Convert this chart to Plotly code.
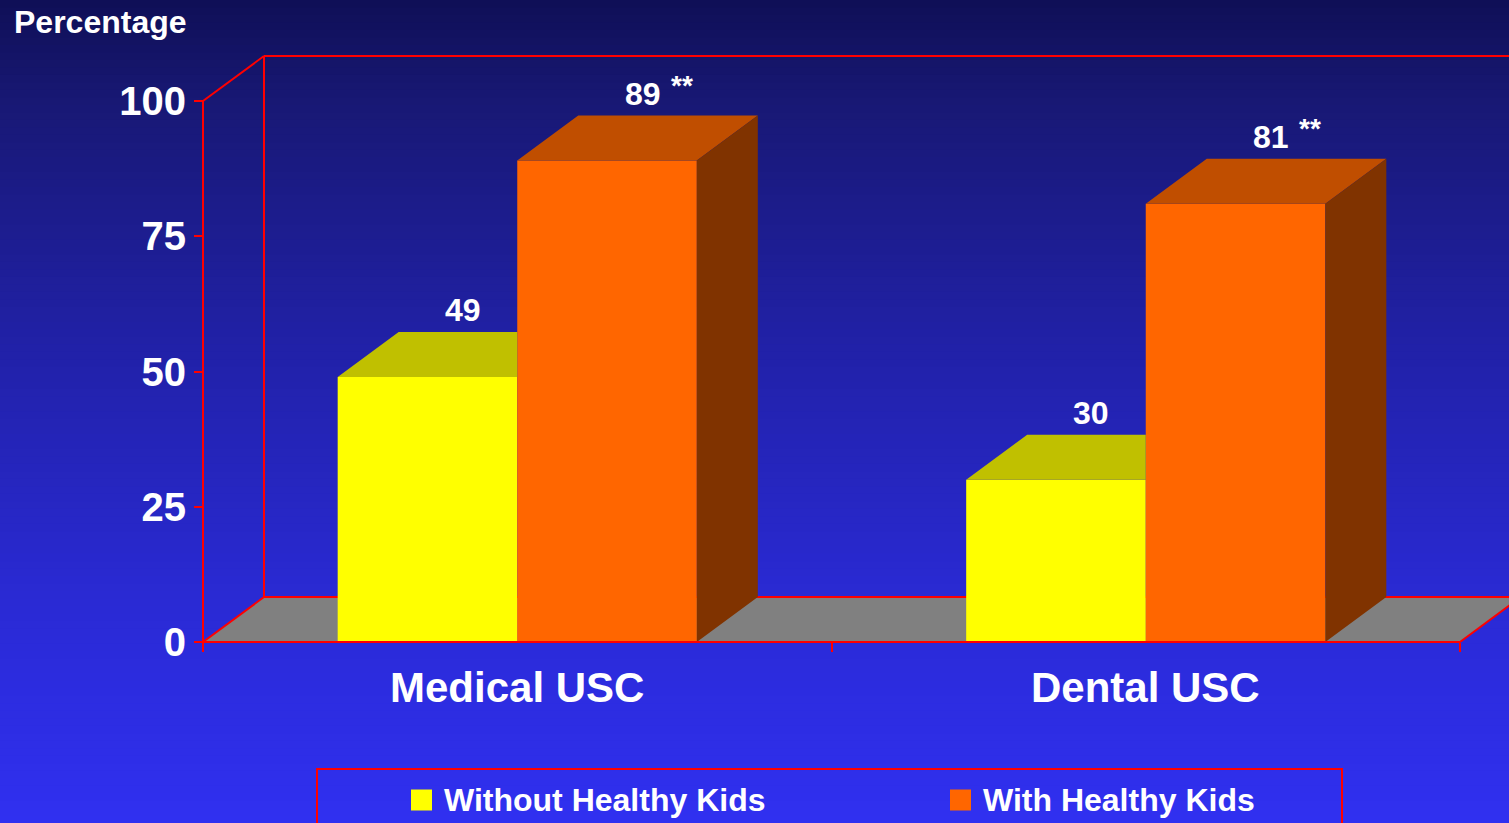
import plotly.graph_objects as go

# ---------------- data ----------------
categories = ["Medical USC", "Dental USC"]
series_names = ["Without Healthy Kids", "With Healthy Kids"]
without_hk = [49, 30]
with_hk = [89, 81]
with_hk_marks = ["**", "**"]
y_ticks = [0, 25, 50, 75, 100]
y_title = "Percentage"

# ---------------- layout constants ----------------
W, H = 1509, 823
ML, MR, MT, MB = 180, 0, 30, 160
PX_X0, PX_Y0 = 203, 642          # pixel position of the front-bottom-left corner
PX_PER_X, PX_PER_Y = 1257, 5.41  # pixels per x unit / per percent
DEPTH_PX = (61, 45)
FONT = "Liberation Sans, Arial, sans-serif"
RED = "#FF0000"
YELLOW, YELLOW_TOP = "#FFFF00", "#C0C000"
ORANGE, ORANGE_TOP, ORANGE_SIDE = "#FF6600", "#C04E00", "#803300"
FLOOR = "#808080"

plot_w, plot_h = W - ML - MR, H - MT - MB
x_range = [(ML - PX_X0) / PX_PER_X, (W - MR - PX_X0) / PX_PER_X]
y_range = [-((H - MB) - PX_Y0) / PX_PER_Y, (PX_Y0 - MT) / PX_PER_Y]
dx = DEPTH_PX[0] / PX_PER_X
dy = DEPTH_PX[1] / PX_PER_Y
ymax = y_ticks[-1]


def pxx(px):
    return (px - ML) / plot_w


def pxy(py):
    return ((H - MB) - py) / plot_h


n = len(categories)
cat_x = [(i + 0.5) / n for i in range(n)]
bw = (1.0 / n) / 3.5  # gap width 150%

fig = go.Figure()

# front faces
fig.add_trace(go.Bar(x=cat_x, y=without_hk, width=bw, offset=-bw, marker_color=YELLOW,
                     marker_line_width=0, name=series_names[0], showlegend=False, hoverinfo="skip"))
fig.add_trace(go.Bar(x=cat_x, y=with_hk, width=bw, offset=0, marker_color=ORANGE,
                     marker_line_width=0, name=series_names[1], showlegend=False, hoverinfo="skip"))

# 3-D faces (tops and sides) computed from the values
ytx, yty, otx, oty, osx, osy = [], [], [], [], [], []
for c, v1, v2 in zip(cat_x, without_hk, with_hk):
    xl, xr = c - bw, c
    if v2 >= v1:  # yellow top partly hidden behind orange bar
        ytx += [xl, xr, xr, xl + dx, xl, None]
        yty += [v1, v1, v1 + dy, v1 + dy, v1, None]
    else:
        ytx += [xl, xr, xr + dx, xl + dx, xl, None]
        yty += [v1, v1, v1 + dy, v1 + dy, v1, None]
    ol, orr = c, c + bw
    otx += [ol, orr, orr + dx, ol + dx, ol, None]
    oty += [v2, v2, v2 + dy, v2 + dy, v2, None]
    osx += [orr, orr + dx, orr + dx, orr, orr, None]
    osy += [v2, v2 + dy, dy, 0, v2, None]

for xs, ys, col in [(ytx, yty, YELLOW_TOP), (otx, oty, ORANGE_TOP), (osx, osy, ORANGE_SIDE)]:
    fig.add_trace(go.Scatter(x=xs, y=ys, fill="toself", fillcolor=col, mode="lines",
                             line=dict(width=0, color=col), showlegend=False, hoverinfo="skip"))

# front bottom edge (above bars)
fig.add_trace(go.Scatter(x=[0, 1], y=[0, 0], mode="lines", line=dict(color=RED, width=2),
                         showlegend=False, hoverinfo="skip"))

shapes = []
# background gradient
stops = [(0, (15, 15, 86)), (100, (24, 24, 116)), (350, (33, 33, 168)),
         (600, (42, 42, 212)), (823, (48, 48, 240))]


def grad(py):
    for (a, ca), (b, cb) in zip(stops[:-1], stops[1:]):
        if a <= py <= b:
            t = (py - a) / (b - a)
            return "rgb(%d,%d,%d)" % tuple(round(ca[k] + (cb[k] - ca[k]) * t) for k in range(3))
    return "rgb(%d,%d,%d)" % stops[-1][1]


NB = 110
for i in range(NB):
    y0p = H * i / NB
    y1p = H * (i + 1) / NB + 1
    shapes.append(dict(type="rect", xref="paper", yref="paper", layer="below",
                       x0=pxx(0), x1=pxx(W), y0=pxy(y1p), y1=pxy(y0p),
                       fillcolor=grad((y0p + y1p) / 2), line=dict(width=0)))

# floor
shapes.append(dict(type="path", xref="x", yref="y", layer="below",
                   path=f"M 0,0 L 1,0 L {1+dx},{dy} L {dx},{dy} Z",
                   fillcolor=FLOOR, line=dict(width=0)))
# wall / frame lines
frame = [
    (dx, dy, dx, ymax + dy),            # back-left vertical
    (dx, ymax + dy, x_range[1] + 0.1, ymax + dy),  # back top
    (dx, dy, 1 + dx, dy),               # floor back edge
    (0, 0, dx, dy),                     # floor left diagonal
    (1, 0, 1 + dx, dy),                 # floor right diagonal
    (0, ymax, dx, ymax + dy),           # top left diagonal
    (0, 0, 0, ymax),                    # front left vertical
]
for x0, y0, x1, y1 in frame:
    shapes.append(dict(type="line", xref="x", yref="y", layer="below",
                       x0=x0, y0=y0, x1=x1, y1=y1, line=dict(color=RED, width=2)))

# legend box + swatches
LEG_BOX = (317, 769, 1342, 840)
shapes.append(dict(type="rect", xref="paper", yref="paper", layer="above",
                   x0=pxx(LEG_BOX[0]), x1=pxx(LEG_BOX[2]), y0=pxy(LEG_BOX[3]), y1=pxy(LEG_BOX[1]),
                   line=dict(color=RED, width=2), fillcolor="rgba(0,0,0,0)"))
LEG_ITEM_PX = [411, 950]
LEG_Y = 800
SW = 21
annotations = []
for name, col, lx in zip(series_names, [YELLOW, ORANGE], LEG_ITEM_PX):
    shapes.append(dict(type="rect", xref="paper", yref="paper", layer="above",
                       x0=pxx(lx), x1=pxx(lx + SW), y0=pxy(LEG_Y + SW / 2), y1=pxy(LEG_Y - SW / 2),
                       fillcolor=col, line=dict(width=0)))
    annotations.append(dict(text=name, xref="paper", yref="paper", x=pxx(lx + SW + 10), y=pxy(LEG_Y),
                            xanchor="left", yanchor="middle", showarrow=False,
                            font=dict(family=FONT, size=32, color="white", weight="bold")))

# value labels
for c, v1, v2, mk in zip(cat_x, without_hk, with_hk, with_hk_marks):
    for xc, v, m in [(c - bw / 2 + dx / 2, v1, ""), (c + bw / 2 + dx / 2, v2, mk)]:
        annotations.append(dict(text=str(v), x=xc, y=v + dy, xref="x", yref="y",
                                xanchor="center", yanchor="middle", yshift=22, xshift=5,
                                showarrow=False,
                                font=dict(family=FONT, size=32, color="white", weight="bold")))
        if m:
            annotations.append(dict(text=m, x=xc, y=v + dy, xref="x", yref="y",
                                    xanchor="left", yanchor="middle", yshift=30, xshift=31,
                                    showarrow=False,
                                    font=dict(family=FONT, size=28, color="white", weight="bold")))

# category labels
for c, name in zip(cat_x, categories):
    annotations.append(dict(text=name, x=c, y=pxy(687), xref="x", yref="paper",
                            xanchor="center", yanchor="middle", showarrow=False,
                            font=dict(family=FONT, size=42, color="white", weight="bold")))

# y title
annotations.append(dict(text=y_title, x=pxx(12), y=pxy(22), xref="paper", yref="paper",
                        xanchor="left", yanchor="middle", showarrow=False,
                        font=dict(family=FONT, size=32, color="white", weight="bold")))

fig.update_layout(
    width=W, height=H,
    margin=dict(l=ML, r=MR, t=MT, b=MB, pad=0),
    paper_bgcolor="#2020A0", plot_bgcolor="rgba(0,0,0,0)",
    barmode="overlay", showlegend=False,
    shapes=shapes, annotations=annotations,
    xaxis=dict(range=x_range, anchor="free", position=pxy(PX_Y0), tickvals=[0, 0.5, 1],
               ticks="outside", ticklen=9, tickwidth=2, tickcolor=RED, showticklabels=False,
               showgrid=False, zeroline=False, showline=False, fixedrange=True),
    yaxis=dict(range=y_range, anchor="free", position=pxx(PX_X0), tickvals=y_ticks,
               ticks="outside", ticklen=9, tickwidth=2, tickcolor=RED,
               tickfont=dict(family=FONT, size=40, color="white", weight="bold"),
               showgrid=False, zeroline=False, showline=False, fixedrange=True),
)

fig.write_html("out.html", config={"displayModeBar": False},
               post_script="document.body.style.margin='0';document.body.style.overflow='hidden';")
